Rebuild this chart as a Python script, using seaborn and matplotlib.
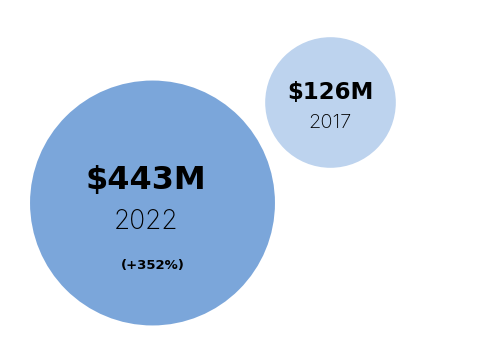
import matplotlib
matplotlib.use("Agg")
import matplotlib.pyplot as plt
import seaborn as sns
import pandas as pd

sns.set_theme(style="white")

# data
years = ["2022", "2017"]
revenue = [443, 126]          # $M
labels = ["$443M", "$126M"]
growth = "(+352%)"

# layout (pixel coords of circle centres)
cx = [152.5, 330.5]
cy = [203, 102.5]
colors = ["#7ba6da", "#bdd3ee"]

df = pd.DataFrame({"year": years, "revenue": revenue, "x": cx, "y": cy})

fig = plt.figure(figsize=(4.99, 3.59), dpi=100)
ax = fig.add_axes([0, 0, 1, 1])

# marker area proportional to revenue (pt^2)
k = 70.2
sns.scatterplot(data=df, x="x", y="y", hue="year", palette=colors,
                size="revenue", sizes=(k * min(revenue), k * max(revenue)),
                linewidth=0, legend=False, ax=ax, alpha=1)

ax.set_xlim(0, 499)
ax.set_ylim(359, 0)
ax.axis("off")

bold = dict(family=["DejaVu Sans"], weight="bold",
            color="black", ha="center", va="center")
light = dict(family=["Inter", "DejaVu Sans"], weight="light",
             color="black", ha="center", va="center")

ax.text(146, 181, labels[0], fontsize=23, **bold)
ax.text(146, 222, years[0], fontsize=19, **light)
ax.text(153, 265, growth, fontsize=9.5, **bold)

ax.text(330.5, 92, labels[1], fontsize=16.5, **bold)
ax.text(330, 123, years[1], fontsize=14.5, **light)

fig.savefig("out.png", dpi=100)
